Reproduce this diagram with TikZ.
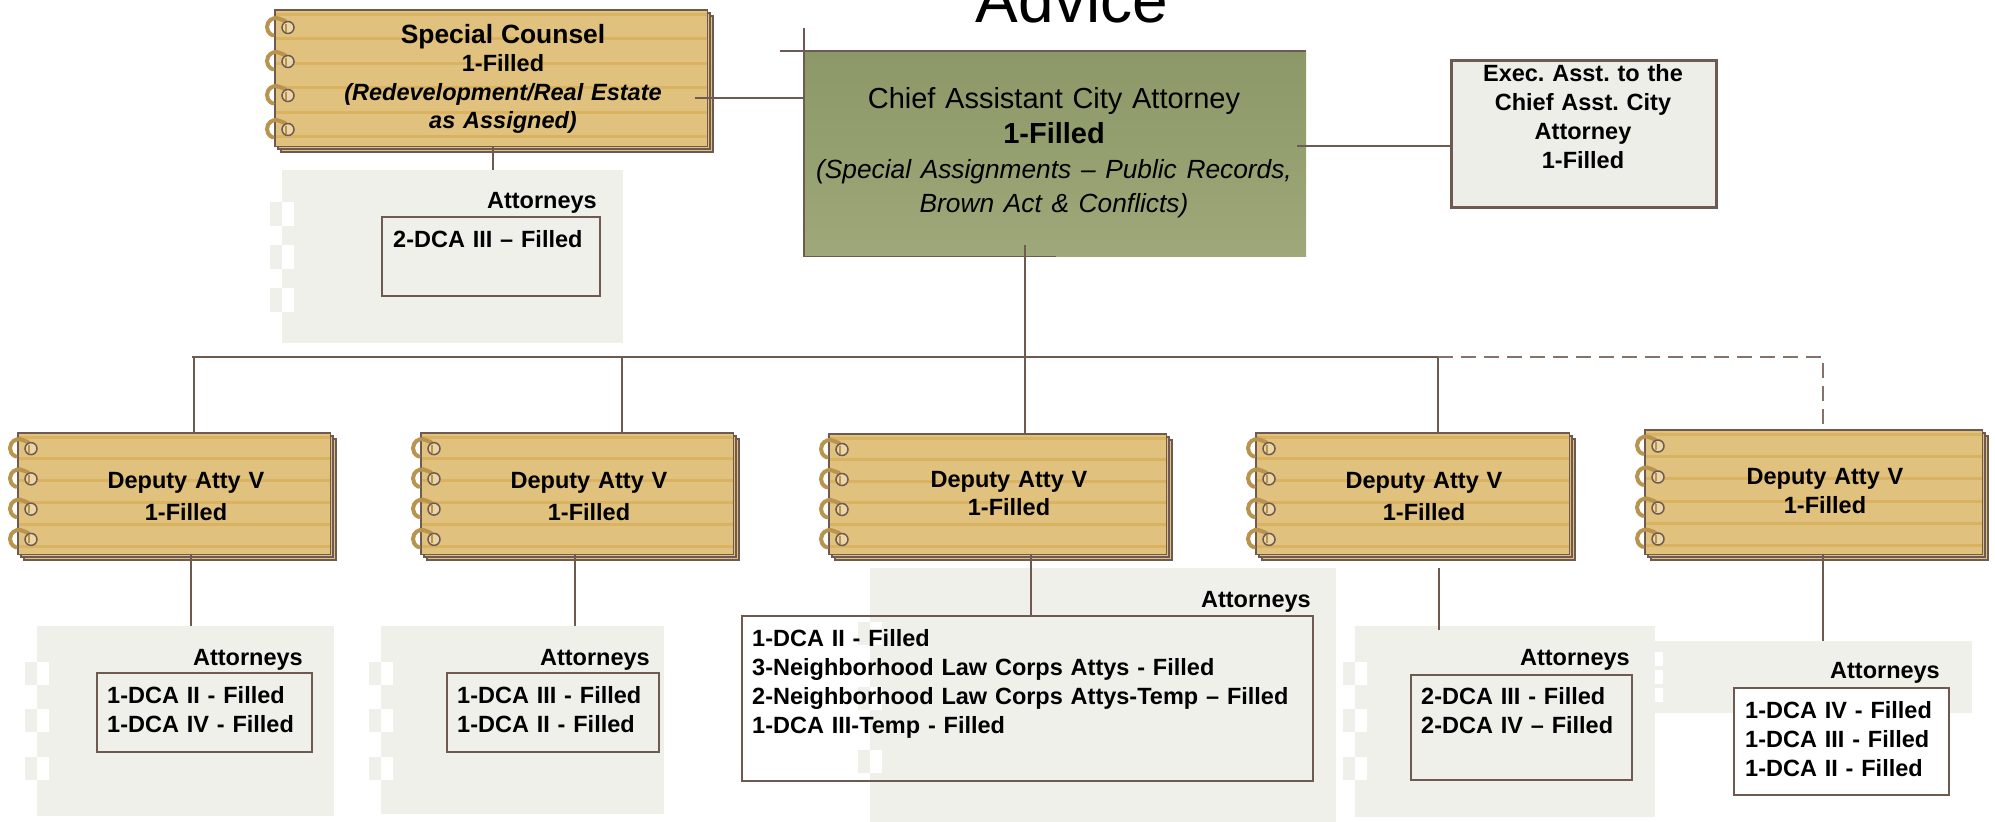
\documentclass[tikz,border=0pt]{standalone}
\usepackage{fontspec}
\setmainfont{Liberation Sans}
\definecolor{linebrown}{HTML}{6E5A50}
\definecolor{padfill}{HTML}{E0C17D}
\definecolor{padstripec}{HTML}{D9B262}
\definecolor{ringgold}{HTML}{B8944F}
\definecolor{eyefill}{HTML}{EAD6A6}
\definecolor{panelgrey}{HTML}{F0F0EB}
\definecolor{execfill}{HTML}{EEEEE9}
\definecolor{chieftop}{HTML}{8C9867}
\definecolor{chiefbot}{HTML}{9EA87A}

\tikzset{
  conn/.style={linebrown, line width=1.6},
  dashconn/.style={linebrown!85, line width=1.6, dash pattern=on 15pt off 8pt},
  padback/.style={draw=linebrown, fill=padfill, line width=1.2},
  padstripe/.style={padstripec, line width=3},
  panelbox/.style={fill=panelgrey, inner sep=0, anchor=north west},
  listbox/.style={draw=linebrown, line width=1.5, inner sep=0, anchor=north west},
  bodytext/.style={font=\fontsize{23.5}{29}\selectfont\bfseries},
  centred/.style={bodytext, anchor=base, inner sep=0, align=center, text width=#1},
  listtext/.style={bodytext, anchor=base west, inner sep=0, align=left, text width=560},
  heading/.style={bodytext, anchor=base east, inner sep=0},
  spiral/.pic={
    \draw[ringgold, line width=4, line cap=round] (10,-6) -- (5.5,-7.8)
      arc[start angle=300, end angle=112, radius=9];
    \draw[linebrown, fill=eyefill, line width=1.5] (13,0.5) circle[radius=6];
    \draw[ringgold, line width=2] (10.8,-3.5) -- (10.8,4.5);
  }
}

% notebook pad: name, left, top, right, bottom
\newcommand{\padbox}[5]{%
  \draw[padback] ({#2+6},{#3+6}) rectangle ({#4+6},{#5+6});
  \draw[padback] ({#2+3},{#3+3}) rectangle ({#4+3},{#5+3});
  \node[inner sep=0, fill=padfill, anchor=north west,
        minimum width={#4-#2}, minimum height={#5-#3}] (#1) at (#2,#3) {};
  \begin{scope}
    \clip (#2,#3) rectangle (#4,#5);
    \foreach \k in {0,...,5}
      \draw[padstripe] (#2,{#3+4+\k*(#5-#3)/5.55}) -- (#4,{#3+4+\k*(#5-#3)/5.55});
  \end{scope}
  \draw[linebrown, line width=1.5] (#1.north west) rectangle (#1.south east);
  \foreach \k in {1,3,5,7}
    \pic at (#2,{#3+\k*(#5-#3)/8}) {spiral};
}

% checker notches on a panel edge: edge x, square width, square height, list of tops
\newcommand{\notches}[4]{%
  \foreach \t in {#4} {
    \fill[panelgrey] ({#1-#2},\t) rectangle (#1,{\t+#3});
    \fill[white] (#1,\t) rectangle ({#1+#2},{\t+#3});
  }
}

\begin{document}
\frenchspacing
\begin{tikzpicture}[x=1pt,y=-1pt]
\useasboundingbox (0,0) rectangle (1995,822);
\fill[white] (0,0) rectangle (1995,822);

% section title
\node[anchor=base, inner sep=0, font=\fontsize{64}{70}\selectfont] (title) at (1072,22) {Advice};

% ---------- attorney panels ----------
\node[panelbox, minimum width=341, minimum height=173] (psc) at (282,170) {};
\node[panelbox, minimum width=297, minimum height=190] (p1) at (37,626) {};
\node[panelbox, minimum width=283, minimum height=188] (p2) at (381,626) {};
\node[panelbox, minimum width=466, minimum height=254] (p3) at (870,568) {};
\node[panelbox, minimum width=300, minimum height=191] (p4) at (1355,626) {};
\node[panelbox, minimum width=317, minimum height=72] (p5) at (1655,641) {};

\notches{282}{12}{24}{202,245,288}
\notches{37}{12}{23}{662,709,757}
\notches{381}{12}{23}{662,709,757}
\notches{870}{12}{23}{622,687,750}
\notches{1355}{12}{23}{662,709,757}
\notches{1655}{8}{14}{652,670,688}

% special counsel staff
\node[heading] (hsc) at (597,208) {Attorneys};
\node[listbox, minimum width=218, minimum height=79] (lsc) at (381,216) {};
\node[listtext] (tsc) at (393,247) {2-DCA III – Filled};

% deputy 1 staff
\node[heading] (h1) at (303,665) {Attorneys};
\node[listbox, minimum width=215, minimum height=79] (l1) at (96,672) {};
\node[listtext] (t1) at (107,703) {1-DCA II - Filled\\1-DCA IV - Filled};

% deputy 2 staff
\node[heading] (h2) at (650,665) {Attorneys};
\node[listbox, minimum width=212, minimum height=79] (l2) at (446,672) {};
\node[listtext] (t2) at (457,703) {1-DCA III - Filled\\1-DCA II - Filled};

% deputy 3 staff
\node[heading] (h3) at (1311,607) {Attorneys};
\node[listbox, minimum width=571, minimum height=165] (l3) at (741,615) {};
\node[listtext] (t3) at (752,646) {1-DCA II - Filled\\3-Neighborhood Law Corps Attys - Filled\\2-Neighborhood Law Corps Attys-Temp – Filled\\1-DCA III-Temp - Filled};

% deputy 4 staff
\node[heading] (h4) at (1630,665) {Attorneys};
\node[listbox, minimum width=221, minimum height=105] (l4) at (1410,674) {};
\node[listtext] (t4) at (1421,704) {2-DCA III - Filled\\2-DCA IV – Filled};

% deputy 5 staff
\node[heading] (h5) at (1940,678) {Attorneys};
\node[listbox, fill=white, minimum width=215, minimum height=107] (l5) at (1733,687) {};
\node[listtext] (t5) at (1745,718) {1-DCA IV - Filled\\1-DCA III - Filled\\1-DCA II - Filled};

% ---------- chief assistant ----------
\node[inner sep=0, anchor=north west, minimum width=502, minimum height=205,
      top color=chieftop, bottom color=chiefbot] (chief) at (804,51) {};
\draw[conn] ([xshift=-24pt]chief.north west) -- (chief.north east);
\draw[conn] ([yshift=23pt]chief.north west) -- (chief.south west) -- ([xshift=252pt]chief.south west);
\node[anchor=base, inner sep=0, align=center, text width=560,
      font=\fontsize{29}{35}\selectfont] (chieftext) at (1054,108)
  {Chief Assistant City Attorney\\\textbf{1-Filled}\\{\fontsize{26.3}{35}\selectfont\itshape (Special Assignments – Public Records,}\\[-1pt]{\fontsize{26.3}{35}\selectfont\itshape Brown Act \& Conflicts)}};

% executive assistant
\node[draw=linebrown, line width=2.5, fill=execfill, anchor=north west, inner sep=0,
      minimum width=265, minimum height=147] (exec) at (1450,59) {};
\node[centred=260] (exectext) at (1583,81) {Exec. Asst. to the\\Chief Asst. City\\Attorney\\1-Filled};

% ---------- notebook pads ----------
\padbox{sc}{275}{10}{707}{146}
\node[centred=430, font=\fontsize{23.5}{28.5}\selectfont\bfseries] (sctext) at (503,43)
  {{\fontsize{26.4}{28.5}\selectfont Special Counsel}\\1-Filled\\\textit{(Redevelopment/Real Estate}\\\textit{as Assigned)}};

\padbox{d1}{18}{433}{330}{554}
\padbox{d2}{421}{433}{733}{554}
\padbox{d3}{829}{434}{1166}{554}
\padbox{d4}{1256}{433}{1569}{554}
\padbox{d5}{1645}{430}{1982}{554}

\node[centred=300, font=\fontsize{23.5}{32}\selectfont\bfseries] (d1text) at (186,488) {Deputy Atty V\\1-Filled};
\node[centred=300, font=\fontsize{23.5}{32}\selectfont\bfseries] (d2text) at (589,488) {Deputy Atty V\\1-Filled};
\node[centred=300, font=\fontsize{23.5}{28}\selectfont\bfseries] (d3text) at (1009,487) {Deputy Atty V\\1-Filled};
\node[centred=300, font=\fontsize{23.5}{32}\selectfont\bfseries] (d4text) at (1424,488) {Deputy Atty V\\1-Filled};
\node[centred=300, font=\fontsize{23.5}{29}\selectfont\bfseries] (d5text) at (1825,484) {Deputy Atty V\\1-Filled};

% ---------- connectors ----------
\coordinate (scjoin) at (695,98);
\draw[conn] (scjoin) -- (scjoin -| chief.west);
\coordinate (execjoin) at (1297,146);
\draw[conn] (execjoin) -- (execjoin -| exec.west);
\coordinate (scdown) at (493,146);
\draw[conn] (scdown) -- (scdown |- psc.north);

\coordinate (chiefdown) at (1025,245);
\coordinate (bus1) at (194,357);
\coordinate (bus2) at (622,357);
\coordinate (bus4) at (1438,357);
\coordinate (bus5) at (1823,357);
\draw[conn] (chiefdown) -- (chiefdown |- d3.north);
\draw[conn] ([xshift=-2pt]bus1) -- (bus4);
\draw[conn] (bus1) -- (bus1 |- d1.north);
\draw[conn] (bus2) -- (bus2 |- d2.north);
\draw[conn] (bus4) -- (bus4 |- d4.north);
\draw[dashconn] (bus4) -- (bus5) -- (bus5 |- d5.north);

\coordinate (drop1) at (191,554);
\coordinate (drop2) at (575,554);
\coordinate (drop3) at (1031,554);
\coordinate (drop4) at (1439,568);
\coordinate (drop5) at (1823,554);
\draw[conn] (drop1) -- (drop1 |- p1.north);
\draw[conn] (drop2) -- (drop2 |- p2.north);
\draw[conn] (drop3) -- (drop3 |- l3.north);
\draw[conn] (drop4) -- ([yshift=-4pt]drop4 |- p4.north);
\draw[conn] (drop5) -- (drop5 |- p5.north);
\end{tikzpicture}
\end{document}
